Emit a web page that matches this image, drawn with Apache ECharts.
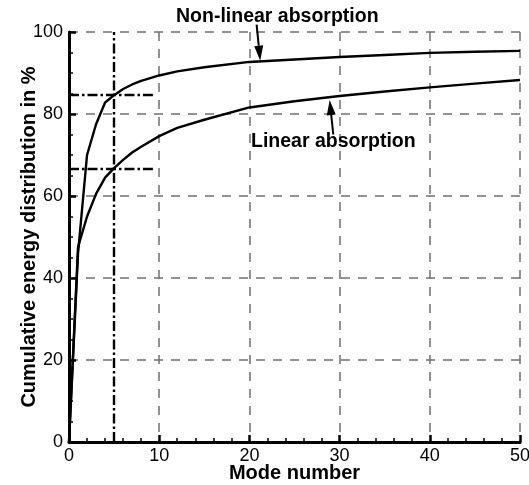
<!DOCTYPE html>
<html><head><meta charset="utf-8">
<script src="https://cdn.jsdelivr.net/npm/echarts@6/dist/echarts.min.js"></script>
<style>html,body{margin:0;padding:0;background:#fff}#c{width:529px;height:485px}</style>
</head><body><div id="c"></div>
<script>
const modes      = [0, 1, 2, 3, 4, 5, 6, 7, 8, 10, 12, 15, 20, 25, 30, 35, 40, 45, 50];
const linearAbs  = [0, 47.5, 55, 60.5, 64.5, 66.8, 68.8, 70.6, 72, 74.6, 76.6, 78.6, 81.6, 83.1, 84.4, 85.5, 86.5, 87.4, 88.3];
const nonlinAbs  = [0, 46, 70, 77.5, 82.8, 84.6, 86.1, 87.2, 88.1, 89.4, 90.4, 91.4, 92.7, 93.3, 93.9, 94.4, 94.9, 95.2, 95.4];
const xTicks = [0, 10, 20, 30, 40, 50];
const yTicks = [0, 20, 40, 60, 80, 100];
const refMode = 5;
const refLevels = [84.6, 66.6];
const refEnd = 9.3;
// annotation arrows: [tail, head] in data units
const arrowNonlin = [[20.8, 101.8], [21.2, 93.0]];
const arrowLin    = [[29.3, 75.0], [28.9, 83.4]];

const pair = (xs, ys) => xs.map((x, i) => [x, ys[i]]);
const font = 'Liberation Sans, Arial, sans-serif';
const dashDot = [10, 3, 2.5, 3];

const chart = echarts.init(document.getElementById('c'), null, {renderer: 'canvas'});
chart.setOption({
  animation: false,
  grid: {left: 69, right: 9, top: 32, bottom: 43, containLabel: false, outerBoundsMode: 'none'},
  xAxis: {
    type: 'value', min: 0, max: 50, interval: 10,
    axisLine: {lineStyle: {color: '#000', width: 3}},
    axisTick: {inside: true, length: 7, lineStyle: {color: '#000', width: 2.5}},
    minorTick: {show: true, splitNumber: 5, length: 4, lineStyle: {color: '#000', width: 1.5}},
    splitLine: {show: true, lineStyle: {color: '#707070', width: 1.5, type: [9, 8]}},
    axisLabel: {color: '#000', fontSize: 18, fontFamily: font, margin: 5},
    name: 'Mode number', nameLocation: 'middle', nameGap: 21, nameMoveOverlap: false,
    nameTextStyle: {color: '#000', fontSize: 20, fontWeight: 'bold', fontFamily: font}
  },
  yAxis: {
    type: 'value', min: 0, max: 100, interval: 20,
    axisLine: {show: true, lineStyle: {color: '#000', width: 3}},
    axisTick: {inside: true, length: 7, lineStyle: {color: '#000', width: 2.5}},
    minorTick: {show: true, splitNumber: 4, length: 4, lineStyle: {color: '#000', width: 1.5}},
    splitLine: {show: true, lineStyle: {color: '#707070', width: 1.5, type: [9, 8]}},
    axisLabel: {color: '#000', fontSize: 18, fontFamily: font, margin: 6},
    name: 'Cumulative energy distribution in %', nameLocation: 'middle', nameGap: 30, nameMoveOverlap: false,
    nameTextStyle: {color: '#000', fontSize: 20, fontWeight: 'bold', fontFamily: font}
  },
  series: [
    {
      type: 'line', name: 'Linear absorption', data: pair(modes, linearAbs),
      showSymbol: false, smooth: false, clip: false,
      lineStyle: {color: '#000', width: 2.4},
      markLine: {
        silent: true, symbol: ['none', 'none'], label: {show: false},
        lineStyle: {color: '#000', width: 2.4, type: dashDot},
        data: [
          [{coord: [refMode, 0]}, {coord: [refMode, 100]}],
          [{coord: [0, refLevels[0]]}, {coord: [refEnd, refLevels[0]]}],
          [{coord: [0, refLevels[1]]}, {coord: [refEnd, refLevels[1]]}]
        ]
      }
    },
    {
      type: 'line', name: 'Non-linear absorption', data: pair(modes, nonlinAbs),
      showSymbol: false, smooth: false, clip: false,
      lineStyle: {color: '#000', width: 2.4}
    }
  ]
});

function arrowGraphics(a) {
  const t = chart.convertToPixel({gridIndex: 0}, a[0]);
  const h = chart.convertToPixel({gridIndex: 0}, a[1]);
  const dx = h[0] - t[0], dy = h[1] - t[1];
  const L = Math.hypot(dx, dy), ux = dx / L, uy = dy / L;
  const hl = 15, hw = 4.5;
  const bx = h[0] - ux * hl, by = h[1] - uy * hl;
  return [
    {type: 'line', shape: {x1: t[0], y1: t[1], x2: bx, y2: by}, style: {stroke: '#000', lineWidth: 2}},
    {type: 'polygon', shape: {points: [[h[0], h[1]], [bx - uy * hw, by + ux * hw], [bx + uy * hw, by - ux * hw]]}, style: {fill: '#000'}}
  ];
}
chart.setOption({
  graphic: [
    {type: 'text', left: 176, top: 7, style: {text: 'Non-linear absorption', font: 'bold 19.5px ' + font, fill: '#000'}},
    {type: 'text', left: 251, top: 132, style: {text: 'Linear absorption', font: 'bold 19.5px ' + font, fill: '#000'}}
  ].concat(arrowGraphics(arrowNonlin), arrowGraphics(arrowLin))
});
</script></body></html>
